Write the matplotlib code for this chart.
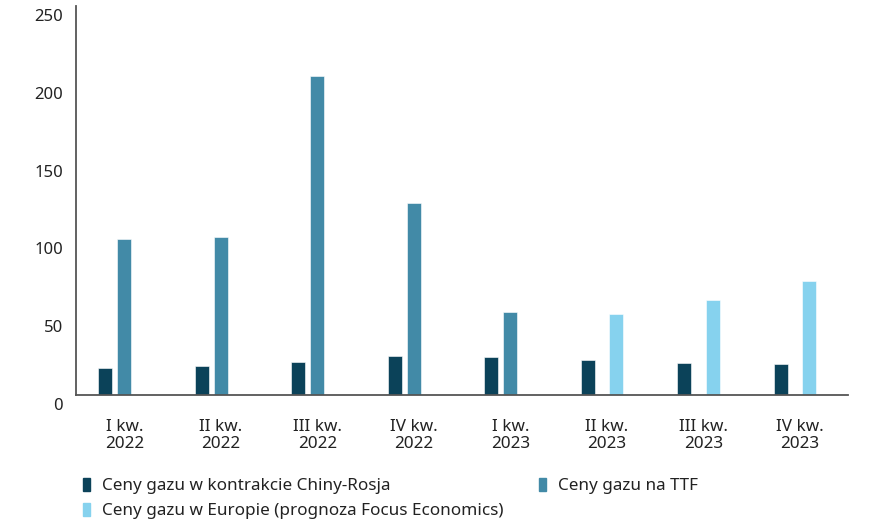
import numpy as np
import matplotlib
matplotlib.use("Agg")
import matplotlib.pyplot as plt
from matplotlib.patches import Rectangle
from matplotlib.transforms import ScaledTranslation

plt.rcParams['font.family'] = ['Noto Sans', 'DejaVu Sans']

quarters = ["I kw.\n2022", "II kw.\n2022", "III kw.\n2022", "IV kw.\n2022",
            "I kw.\n2023", "II kw.\n2023", "III kw.\n2023", "IV kw.\n2023"]
china_russia = [17.5, 18.6, 21.4, 25.0, 24.6, 22.3, 20.4, 19.7]
ttf = [100.0, 101.3, 205.0, 123.4, 53.1]
europe_forecast = [51.9, 61.0, 73.5]

labels = ["Ceny gazu w kontrakcie Chiny-Rosja", "Ceny gazu na TTF",
          "Ceny gazu w Europie (prognoza Focus Economics)"]
colors = ["#0b4259", "#428aa7", "#86d2ee"]

fig = plt.figure(figsize=(8.72, 5.23), dpi=100)
ax = fig.add_axes([0.0872, 0.2447, 0.8853, 0.7438])

x = np.arange(len(quarters))
w = 0.145
ax.bar(x - 0.195, china_russia, w, color=colors[0], edgecolor="white", linewidth=0.4)
ax.bar(x[:len(ttf)], ttf, w, color=colors[1], edgecolor="white", linewidth=0.4)
xf = x[len(quarters) - len(europe_forecast):]
ax.bar(xf + 0.098, europe_forecast, w, color=colors[2], edgecolor="white", linewidth=0.4)

ax.set_xlim(-0.5, len(quarters) - 0.5)
ax.set_ylim(0, 250)
ax.set_yticks(np.arange(0, 251, 50))
ax.set_xticks(x)
ax.set_xticklabels(quarters, linespacing=1.15)

for s in ["top", "right"]:
    ax.spines[s].set_visible(False)
for s in ["left", "bottom"]:
    ax.spines[s].set_color("#555555")
    ax.spines[s].set_linewidth(1.3)

ax.tick_params(axis="both", length=0, labelsize=12, labelcolor="#222222")
ax.tick_params(axis="x", labelsize=12.3, pad=17)
ax.tick_params(axis="y", pad=9.5)

# y labels sit a bit below their gridline in the original
off = ScaledTranslation(0, -9 / 100, fig.dpi_scale_trans)
for lab in ax.get_yticklabels():
    lab.set_transform(lab.get_transform() + off)

# legend
handles = [Rectangle((0, 0), 1, 1, color=colors[0]),
           Rectangle((0, 0), 1, 1, color=colors[2]),
           Rectangle((0, 0), 1, 1, color=colors[1])]
leg = fig.legend(handles, [labels[0], labels[2], labels[1]], ncol=2,
                 loc="upper left", bbox_to_anchor=(0.095, 0.086),
                 frameon=False, fontsize=12.3, handlelength=0.4, handleheight=0.8,
                 handletextpad=0.7, columnspacing=2.1, labelspacing=0.47,
                 borderaxespad=0, borderpad=0)
for t in leg.get_texts():
    t.set_color("#222222")

fig.savefig("out.png", dpi=100)
